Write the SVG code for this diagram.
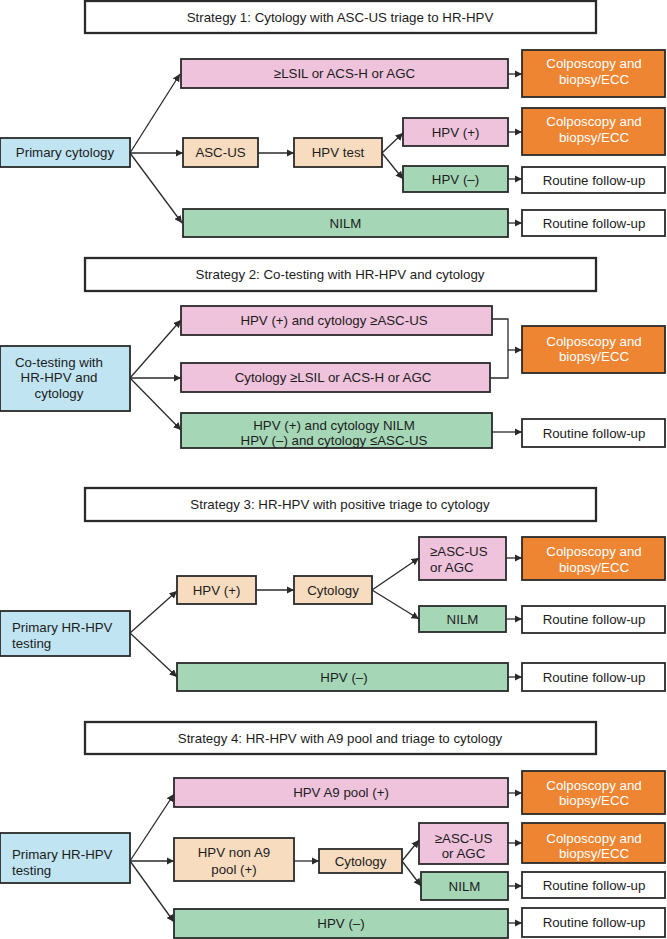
<svg xmlns="http://www.w3.org/2000/svg" width="667" height="939" viewBox="0 0 667 939">
<style>
rect{stroke:#2a2a2a;stroke-width:1.8}
.tt{stroke-width:2.3;fill:#fff}
.bl{fill:#c0e4f2}.pk{fill:#efc3dc}.pc{fill:#f8dcc0}.gr{fill:#a5d7b7}.or{fill:#ee8532}.wh{fill:#fff}
text{font-family:"Liberation Sans",Arial,sans-serif;font-size:13.3px;fill:#1c1c1c;text-anchor:middle}
text.w{fill:#fff}
text.l{text-anchor:start}
.c path{stroke:#2a2a2a;stroke-width:1.3;fill:none}
.c path.a{marker-end:url(#ah)}
</style>
<defs>
<marker id="ah" viewBox="0 0 10 10" refX="10" refY="5" markerWidth="7.5" markerHeight="7.5" markerUnits="userSpaceOnUse" orient="auto"><path d="M0,0L10,5L0,10z" fill="#2a2a2a"/></marker>
</defs>
<rect width="667" height="939" fill="#fff" style="stroke:none"/>

<!-- Strategy 1 -->
<g id="s1_title"><rect class="tt" x="85" y="1" width="511" height="32"/><text x="340" y="22">Strategy 1: Cytology with ASC-US triage to HR-HPV</text></g>
<g id="s1_lsil"><rect class="pk" x="181" y="59" width="327" height="29"/><text x="344.5" y="78">≥LSIL or ACS-H or AGC</text></g>
<g id="s1_colpo1"><rect class="or" x="522" y="50" width="143" height="47"/><text class="w" x="594" y="67.5">Colposcopy and</text><text class="w" x="594" y="83.5">biopsy/ECC</text></g>
<g id="s1_primary"><rect class="bl" x="0" y="138" width="130" height="29"/><text x="65" y="157">Primary cytology</text></g>
<g id="s1_ascus"><rect class="pc" x="183" y="138" width="75" height="29"/><text x="220.5" y="157">ASC-US</text></g>
<g id="s1_hpvtest"><rect class="pc" x="294" y="138" width="88" height="29"/><text x="338" y="157">HPV test</text></g>
<g id="s1_hpvpos"><rect class="pk" x="403" y="118" width="105" height="28"/><text x="455.5" y="136.5">HPV (+)</text></g>
<g id="s1_colpo2"><rect class="or" x="522" y="108" width="143" height="47"/><text class="w" x="594" y="125.5">Colposcopy and</text><text class="w" x="594" y="141.5">biopsy/ECC</text></g>
<g id="s1_hpvneg"><rect class="gr" x="403" y="166" width="105" height="26"/><text x="455.5" y="183.5">HPV (–)</text></g>
<g id="s1_routine1"><rect class="wh" x="522" y="167" width="143" height="26"/><text x="594" y="184.5">Routine follow-up</text></g>
<g id="s1_nilm"><rect class="gr" x="183" y="209" width="325" height="28"/><text x="345.5" y="227.5">NILM</text></g>
<g id="s1_routine2"><rect class="wh" x="522" y="210" width="143" height="26"/><text x="594" y="227.5">Routine follow-up</text></g>

<!-- Strategy 2 -->
<g id="s2_title"><rect class="tt" x="85" y="258" width="511" height="33"/><text x="340" y="279">Strategy 2: Co-testing with HR-HPV and cytology</text></g>
<g id="s2_cotest"><rect class="bl" x="0" y="346" width="130" height="65"/><text x="59" y="366.5">Co-testing with</text><text x="59" y="381.5">HR-HPV and</text><text x="59" y="397.5">cytology</text></g>
<g id="s2_hpvpos"><rect class="pk" x="181" y="306" width="311" height="29"/><text x="334" y="325">HPV (+) and cytology ≥ASC-US</text></g>
<g id="s2_cyto"><rect class="pk" x="181" y="363" width="309" height="29"/><text x="333" y="382">Cytology ≥LSIL or ACS-H or AGC</text></g>
<g id="s2_green"><rect class="gr" x="181" y="413" width="311" height="35"/><text x="334" y="429.5">HPV (+) and cytology NILM</text><text x="334" y="445">HPV (–) and cytology ≤ASC-US</text></g>
<g id="s2_colpo"><rect class="or" x="522" y="326" width="143" height="47"/><text class="w" x="594" y="345.5">Colposcopy and</text><text class="w" x="594" y="360.5">biopsy/ECC</text></g>
<g id="s2_routine"><rect class="wh" x="522" y="419" width="143" height="28"/><text x="594" y="437.5">Routine follow-up</text></g>

<!-- Strategy 3 -->
<g id="s3_title"><rect class="tt" x="85" y="488" width="511" height="33"/><text x="340" y="509">Strategy 3: HR-HPV with positive triage to cytology</text></g>
<g id="s3_primary"><rect class="bl" x="0" y="611" width="130" height="45"/><text class="l" x="12" y="631.5">Primary HR-HPV</text><text class="l" x="12" y="647.5">testing</text></g>
<g id="s3_hpvpos"><rect class="pc" x="177" y="576" width="79" height="28"/><text x="216.5" y="594.5">HPV (+)</text></g>
<g id="s3_cyto"><rect class="pc" x="294" y="576" width="78" height="28"/><text x="333" y="594.5">Cytology</text></g>
<g id="s3_ascus"><rect class="pk" x="419" y="537" width="87" height="43"/><text class="l" x="430" y="556">≥ASC-US</text><text class="l" x="430" y="572">or AGC</text></g>
<g id="s3_colpo"><rect class="or" x="522" y="537" width="143" height="43"/><text class="w" x="594" y="556">Colposcopy and</text><text class="w" x="594" y="571.5">biopsy/ECC</text></g>
<g id="s3_nilm"><rect class="gr" x="419" y="606" width="87" height="26"/><text x="462.5" y="623.5">NILM</text></g>
<g id="s3_routine1"><rect class="wh" x="522" y="606" width="143" height="27"/><text x="594" y="624">Routine follow-up</text></g>
<g id="s3_hpvneg"><rect class="gr" x="177" y="663" width="331" height="28"/><text x="344" y="681.5">HPV (–)</text></g>
<g id="s3_routine2"><rect class="wh" x="522" y="663" width="143" height="28"/><text x="594" y="681.5">Routine follow-up</text></g>

<!-- Strategy 4 -->
<g id="s4_title"><rect class="tt" x="85" y="722" width="511" height="32"/><text x="340" y="743">Strategy 4: HR-HPV with A9 pool and triage to cytology</text></g>
<g id="s4_a9"><rect class="pk" x="174" y="778" width="334" height="29"/><text x="341" y="797">HPV A9 pool (+)</text></g>
<g id="s4_colpo1"><rect class="or" x="522" y="771" width="143" height="43"/><text class="w" x="594" y="789.5">Colposcopy and</text><text class="w" x="594" y="804.5">biopsy/ECC</text></g>
<g id="s4_primary"><rect class="bl" x="0" y="833" width="130" height="50"/><text class="l" x="12" y="858.5">Primary HR-HPV</text><text class="l" x="12" y="874.5">testing</text></g>
<g id="s4_nona9"><rect class="pc" x="174" y="838" width="120" height="43"/><text x="234" y="856.5">HPV non A9</text><text x="234" y="874">pool (+)</text></g>
<g id="s4_cyto"><rect class="pc" x="319" y="849" width="83" height="24"/><text x="360.5" y="866">Cytology</text></g>
<g id="s4_ascus"><rect class="pk" x="419" y="823" width="89" height="41"/><text x="463.5" y="842.5">≥ASC-US</text><text x="463.5" y="857.5">or AGC</text></g>
<g id="s4_colpo2"><rect class="or" x="522" y="823" width="143" height="40"/><text class="w" x="594" y="842.5">Colposcopy and</text><text class="w" x="594" y="857.5">biopsy/ECC</text></g>
<g id="s4_nilm"><rect class="gr" x="421" y="872" width="87" height="28"/><text x="464.5" y="890.5">NILM</text></g>
<g id="s4_routine1"><rect class="wh" x="522" y="872" width="143" height="26"/><text x="594" y="889.5">Routine follow-up</text></g>
<g id="s4_hpvneg"><rect class="gr" x="174" y="909" width="334" height="29"/><text x="341" y="927.5">HPV (–)</text></g>
<g id="s4_routine2"><rect class="wh" x="522" y="908" width="143" height="29"/><text x="594" y="926.5">Routine follow-up</text></g>

<g id="connectors" class="c">
<path class="a" d="M130,153L180,74"/>
<path class="a" d="M130,153L183,153"/>
<path class="a" d="M130,153L182,223"/>
<path class="a" d="M258,153L294,153"/>
<path class="a" d="M382,153L403,133"/>
<path class="a" d="M382,153L403,179"/>
<path class="a" d="M508,74L522,74"/>
<path class="a" d="M508,132L522,132"/>
<path class="a" d="M508,179L522,179"/>
<path class="a" d="M508,223L522,223"/>

<path class="a" d="M130,378L181,320"/>
<path class="a" d="M130,378L181,378"/>
<path class="a" d="M130,378L181,430"/>
<path d="M492,319H508V378H490"/>
<path class="a" d="M508,350L522,350"/>
<path class="a" d="M492,432L522,432"/>

<path class="a" d="M130,633L177,591"/>
<path class="a" d="M130,633L177,677"/>
<path class="a" d="M256,590L294,590"/>
<path class="a" d="M372,590L419,558"/>
<path class="a" d="M372,590L419,619"/>
<path class="a" d="M506,558L522,558"/>
<path class="a" d="M506,619L522,619"/>
<path class="a" d="M508,677L522,677"/>

<path class="a" d="M130,861L174,794"/>
<path class="a" d="M130,861L174,861"/>
<path class="a" d="M130,861L174,922"/>
<path class="a" d="M294,861L319,861"/>
<path class="a" d="M402,861L419,840"/>
<path class="a" d="M402,861L421,886"/>
<path class="a" d="M508,793L522,793"/>
<path class="a" d="M508,843L522,843"/>
<path class="a" d="M508,886L522,886"/>
<path class="a" d="M508,923L522,923"/>
</g>
</svg>
